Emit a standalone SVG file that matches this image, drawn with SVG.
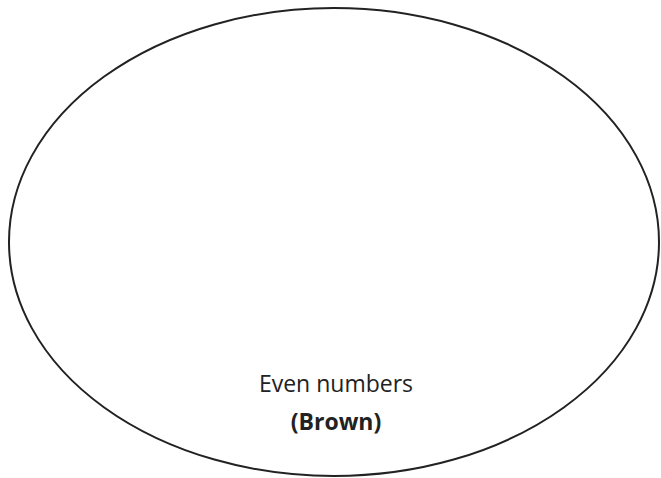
<svg xmlns="http://www.w3.org/2000/svg" width="661" height="478" viewBox="0 0 661 478">
<style>
.t{font-family:"Open Sans","Noto Sans",sans-serif;font-size:23px;fill:#222;text-anchor:middle}
.b{font-weight:bold}
</style>
<rect width="661" height="478" fill="#fff"/>
<g id="set">
<ellipse cx="334" cy="242" rx="325" ry="234" fill="none" stroke="#222" stroke-width="2"/>
<text class="t" x="336" y="392">Even numbers</text>
<text class="t b" x="336" y="430">(Brown)</text>
</g>
</svg>
